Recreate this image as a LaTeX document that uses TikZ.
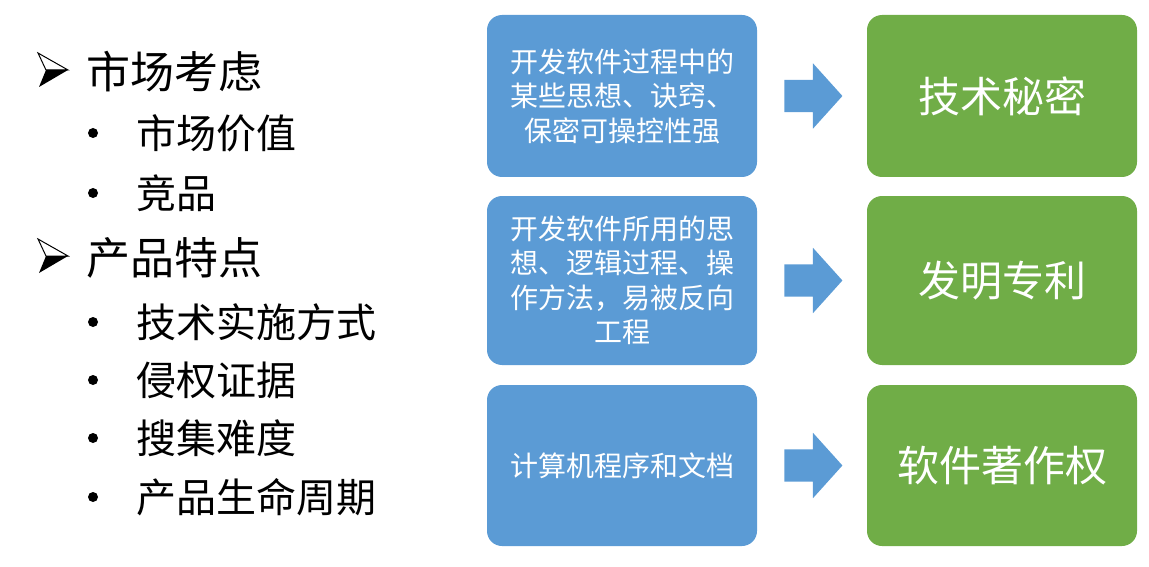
\documentclass[tikz,border=0pt]{standalone}
\usepackage{fontspec}
\setmainfont{Noto Sans CJK SC}
\newfontfamily\symfont{DejaVu Sans}
\usepackage{xcolor}
\usetikzlibrary{shapes.arrows, positioning, calc}

\definecolor{boxblue}{HTML}{5B9BD5}
\definecolor{boxgreen}{HTML}{70AD47}

\begin{document}
\begin{tikzpicture}[x=1pt, y=-1pt,
    srcbox/.style={fill=boxblue, rounded corners=15pt, minimum width=270pt,
        align=center, text=white, inner sep=0pt,
        font=\fontsize{28}{34.5}\selectfont},
    rightsbox/.style={fill=boxgreen, rounded corners=15pt, minimum width=270pt,
        text=white, inner sep=0pt, font=\fontsize{42}{46}\selectfont},
    toarrow/.style={single arrow, fill=boxblue, inner xsep=0pt, inner ysep=16pt,
        text height=0pt, text depth=0pt, minimum height=58pt, anchor=tail,
        single arrow head extend=16.5pt, single arrow tip angle=96},
    headitem/.style={anchor=west, inner sep=0pt, font=\fontsize{44}{48}\selectfont},
    subitem/.style={anchor=west, inner sep=0pt, font=\fontsize{40}{44}\selectfont},
    dotmark/.style={circle, fill=black, inner sep=0pt, minimum size=10pt},
    headmark/.pic={
        \draw[line width=1pt, fill=white, line join=miter]
            (-15,-17) -- (15,0) -- (-7,0) -- cycle;
        \fill[black] (-7,0) -- (15,0) -- (-14,17) -- cycle;
    }]
    \useasboundingbox (0,0) rectangle (1149,567);

    % 左侧列表
    \pic (m1) at (53,70) {headmark};
    \node[headitem] (h1) at (86,72) {市场考虑};
    \node[dotmark] (d1) at (93,133) {};
    \node[subitem] (s1) at (136,133) {市场价值};
    \node[dotmark] (d2) at (93,193) {};
    \node[subitem] (s2) at (136,193) {竞品};
    \pic (m2) at (53,256) {headmark};
    \node[headitem] (h2) at (86,258) {产品特点};
    \node[dotmark] (d3) at (93,322) {};
    \node[subitem] (s3) at (136,322) {技术实施方式};
    \node[dotmark] (d4) at (93,380) {};
    \node[subitem] (s4) at (136,380) {侵权证据};
    \node[dotmark] (d5) at (93,438) {};
    \node[subitem] (s5) at (136,438) {搜集难度};
    \node[dotmark] (d6) at (93,497) {};
    \node[subitem] (s6) at (136,497) {产品生命周期};

    % 保护对象
    \node[srcbox, minimum height=162pt] (b1) at (622,96)
        {开发软件过程中的\\某些思想、诀窍、\\保密可操控性强};
    \node[srcbox, minimum height=169pt] (b2) at (622,280.5)
        {开发软件所用的思\\想、逻辑过程、操\\作方法，易被反向\\工程};
    \node[srcbox, minimum height=161pt] (b3) at (622,465.5)
        {计算机程序和文档};

    % 保护方式
    \node[rightsbox, minimum height=162pt] (g1) at (1002,96) {技术秘密};
    \node[rightsbox, minimum height=169pt] (g2) at (1002,280.5) {发明专利};
    \node[rightsbox, minimum height=161pt] (g3) at (1002,465.5) {软件著作权};

    % 箭头
    \node[toarrow] (a1) at ($(b1.east)+(27,0)$) {};
    \node[toarrow] (a2) at ($(b2.east)+(27,0)$) {};
    \node[toarrow] (a3) at ($(b3.east)+(27,0)$) {};
\end{tikzpicture}
\end{document}
